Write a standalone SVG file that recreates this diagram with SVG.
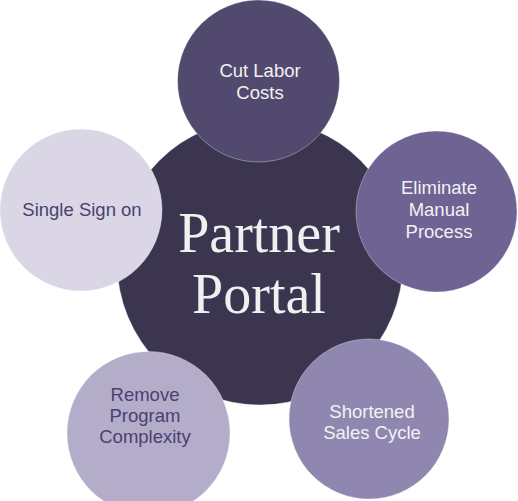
<svg xmlns="http://www.w3.org/2000/svg" width="518" height="501" viewBox="0 0 518 501">
<style>
.c{stroke:#ffffff;stroke-width:1;stroke-opacity:0.35}
.t{font-family:"Liberation Sans",Arial,sans-serif;font-size:18.5px;text-anchor:middle}
.lt{fill:#f2f2f2}
.dk{fill:#4b4070}
.big{font-family:"Liberation Serif","Times New Roman",serif;font-size:56px;fill:#f0f0f0;text-anchor:middle}
</style>
<rect width="518" height="501" fill="#ffffff"/>
<g id="center">
<circle class="c" cx="260" cy="262" r="143" fill="#3b3550"/>
<text class="big" x="259" y="252">Partner</text>
<text class="big" x="259" y="313">Portal</text>
</g>
<g id="connectors"></g>
<g id="cut-labor">
<circle class="c" cx="258.5" cy="81" r="81" fill="#524a6e"/>
<text class="t lt" x="260" y="77">Cut Labor</text>
<text class="t lt" x="260" y="99">Costs</text>
</g>
<g id="eliminate">
<circle class="c" cx="436.5" cy="211.5" r="80.5" fill="#6e6393"/>
<text class="t lt" x="439" y="194">Eliminate</text>
<text class="t lt" x="439" y="216">Manual</text>
<text class="t lt" x="439" y="238">Process</text>
</g>
<g id="shortened">
<circle class="c" cx="369" cy="419" r="80" fill="#9087b0"/>
<text class="t lt" x="372" y="418">Shortened</text>
<text class="t lt" x="372" y="439">Sales Cycle</text>
</g>
<g id="remove">
<circle class="c" cx="148.5" cy="433" r="81.5" fill="#b4adca"/>
<text class="t dk" x="145" y="401">Remove</text>
<text class="t dk" x="145" y="422">Program</text>
<text class="t dk" x="145" y="443">Complexity</text>
</g>
<g id="single-sign-on">
<circle class="c" cx="81" cy="210" r="81" fill="#dad6e5"/>
<text class="t dk" x="82" y="216">Single Sign on</text>
</g>
</svg>
